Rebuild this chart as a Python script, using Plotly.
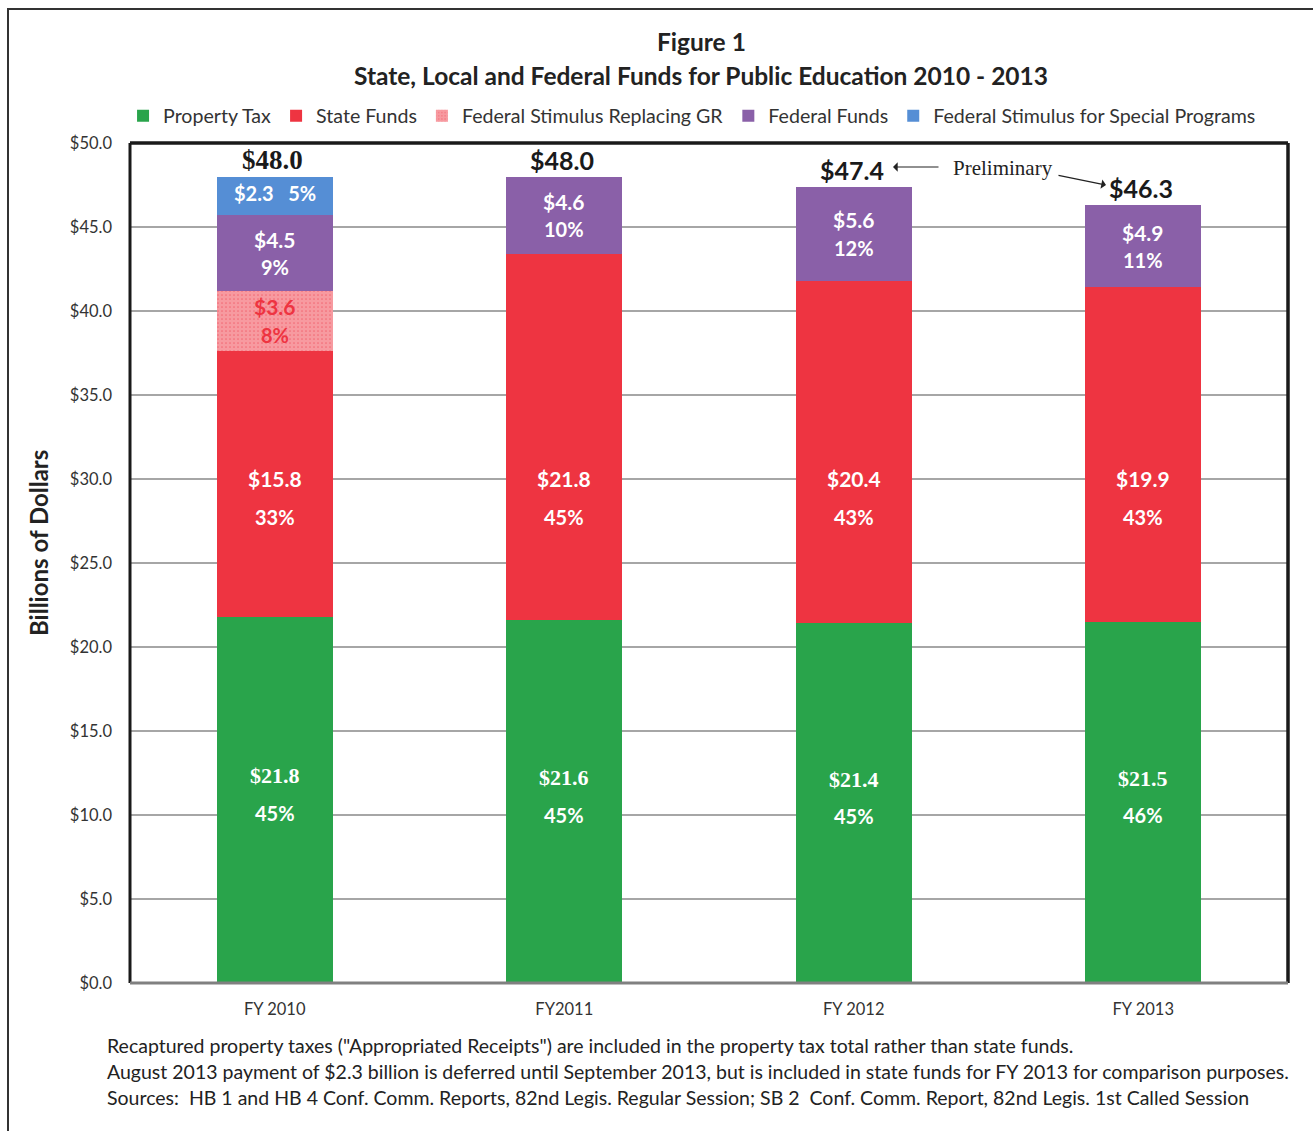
import plotly.graph_objects as go

categories = ["FY 2010", "FY2011", "FY 2012", "FY 2013"]
property_tax = [21.8, 21.6, 21.4, 21.5]
state_funds = [15.8, 21.8, 20.4, 19.9]
stim_gr = [3.6, 0, 0, 0]
federal_funds = [4.5, 4.6, 5.6, 4.9]
stim_special = [2.3, 0, 0, 0]
totals = [48.0, 48.0, 47.4, 46.3]

pt_pct = [45, 45, 45, 46]
sf_pct = [33, 45, 43, 43]
gr_pct = [8, None, None, None]
ff_pct = [9, 10, 12, 11]
sp_pct = [5, None, None, None]

y_ticks = [0, 5, 10, 15, 20, 25, 30, 35, 40, 45, 50]
y_ticktext = [f"${v:.1f}" for v in y_ticks]

footnotes = [
    'Recaptured property taxes ("Appropriated Receipts") are included in the property tax total rather than state funds.',
    'August 2013 payment of $2.3 billion is deferred until September 2013, but is included in state funds for FY 2013 for comparison purposes.',
    'Sources:  HB 1 and HB 4 Conf. Comm. Reports, 82nd Legis. Regular Session; SB 2  Conf. Comm. Report, 82nd Legis. 1st Called Session',
]

GREEN = "#29A44B"
RED = "#EE3441"
PURPLE = "#8A60A8"
BLUE = "#558ED5"
FONT = "Lato"
SERIF = "Liberation Serif"
# in the original, the State Funds labels sit at a common level in the bars
STATE_LABEL_LEVEL = 28.9

fig = go.Figure()
fig.add_trace(go.Bar(name="Property Tax", x=categories, y=property_tax, marker_color=GREEN))
fig.add_trace(go.Bar(name="State Funds", x=categories, y=state_funds, marker_color=RED))
fig.add_trace(go.Bar(name="Federal Stimulus Replacing GR", x=categories, y=stim_gr,
                     marker=dict(color=RED,
                                 pattern=dict(shape=".", fgcolor="white", bgcolor=RED,
                                              size=4, solidity=0.85))))
fig.add_trace(go.Bar(name="Federal Funds", x=categories, y=federal_funds, marker_color=PURPLE))
fig.add_trace(go.Bar(name="Federal Stimulus for Special Programs", x=categories, y=stim_special,
                     marker_color=BLUE))
fig.update_traces(marker_line_width=0, hoverinfo="x+y+name")

annotations = []


def add_label(x, y, text, fam, size, col, yshift=0):
    annotations.append(dict(x=x, y=y, xref="x", yref="y", xanchor="center", yanchor="middle",
                            yshift=yshift, text=text, showarrow=False,
                            font=dict(family=fam, size=size, color=col)))


base = [0.0] * len(categories)
# property tax
for i, (v, p) in enumerate(zip(property_tax, pt_pct)):
    mid = base[i] + v / 2
    add_label(categories[i], mid, f"<b>${v:.1f}</b>", SERIF, 22, "white", yshift=24)
    add_label(categories[i], mid, f"<b>{p}%</b>", FONT, 20, "white", yshift=-13)
base = [b + v for b, v in zip(base, property_tax)]
# state funds
for i, (v, p) in enumerate(zip(state_funds, sf_pct)):
    add_label(categories[i], STATE_LABEL_LEVEL, f"<b>${v:.1f}</b>", FONT, 21, "white", yshift=19)
    add_label(categories[i], STATE_LABEL_LEVEL, f"<b>{p}%</b>", FONT, 20, "white", yshift=-20)
base = [b + v for b, v in zip(base, state_funds)]
# stimulus replacing GR
for i, (v, p) in enumerate(zip(stim_gr, gr_pct)):
    if v and p is not None:
        mid = base[i] + v / 2
        add_label(categories[i], mid, f"<b>${v:.1f}</b>", FONT, 21, RED, yshift=15)
        add_label(categories[i], mid, f"<b>{p}%</b>", FONT, 20, RED, yshift=-14)
base = [b + v for b, v in zip(base, stim_gr)]
# federal funds
for i, (v, p) in enumerate(zip(federal_funds, ff_pct)):
    mid = base[i] + v / 2
    add_label(categories[i], mid, f"<b>${v:.1f}</b>", FONT, 21, "white", yshift=14)
    add_label(categories[i], mid, f"<b>{p}%</b>", FONT, 20, "white", yshift=-14)
base = [b + v for b, v in zip(base, federal_funds)]
# stimulus for special programs
for i, (v, p) in enumerate(zip(stim_special, sp_pct)):
    if v and p is not None:
        add_label(categories[i], base[i] + v / 2, f"<b>${v:.1f}   {p}%</b>", FONT, 20, "white",
                  yshift=3)

# totals
total_fonts = [SERIF, FONT, FONT, FONT]
total_sizes = [27, 25, 25, 25]
for i, t in enumerate(totals):
    annotations.append(dict(x=categories[i], y=t, xref="x", yref="y", xanchor="center",
                            yanchor="bottom", yshift=0, xshift=-2,
                            text=f"<b>${t:.1f}</b>", showarrow=False,
                            font=dict(family=total_fonts[i], size=total_sizes[i],
                                      color="#1a1a1a")))


def px_x(p):
    return (p - 130) / 1158


def px_y(p):
    return (983 - p) / 840


# Preliminary note with arrows
annotations.append(dict(x=px_x(1003), y=px_y(168), xref="paper", yref="paper",
                        xanchor="center", yanchor="middle",
                        text="Preliminary", showarrow=False,
                        font=dict(family=SERIF, size=21, color="#222")))
annotations.append(dict(x=px_x(893), y=px_y(167), xref="paper", yref="paper",
                        ax=47, ay=0, text="", showarrow=True, arrowhead=1, arrowsize=1.3,
                        arrowwidth=1.2, arrowcolor="#222"))
annotations.append(dict(x=px_x(1106), y=px_y(185), xref="paper", yref="paper",
                        ax=-49, ay=-10, text="", showarrow=True, arrowhead=1, arrowsize=1.3,
                        arrowwidth=1.2, arrowcolor="#222"))

# titles
annotations.append(dict(x=px_x(701), y=px_y(42), xref="paper", yref="paper",
                        xanchor="center", yanchor="middle",
                        text="<b>Figure 1</b>", showarrow=False,
                        font=dict(family=FONT, size=24.5, color="#222")))
annotations.append(dict(x=px_x(701), y=px_y(75), xref="paper", yref="paper",
                        xanchor="center", yanchor="middle",
                        text="<b>State, Local and Federal Funds for Public Education 2010 - 2013</b>",
                        showarrow=False, font=dict(family=FONT, size=24.5, color="#222")))

# y-axis title
annotations.append(dict(x=px_x(38), y=px_y(543), xref="paper", yref="paper",
                        xanchor="center", yanchor="middle",
                        text="<b>Billions of Dollars</b>", textangle=-90, showarrow=False,
                        font=dict(family=FONT, size=24, color="#222")))

# footnotes
for k, line in enumerate(footnotes):
    annotations.append(dict(x=px_x(105), y=px_y(1045 + 26 * k),
                            xref="paper", yref="paper", xanchor="left", yanchor="middle",
                            text=line, showarrow=False,
                            font=dict(family=FONT, size=19.5, color="#222")))

shapes = [
    # outer border
    dict(type="rect", xref="paper", yref="paper", x0=px_x(8), x1=1.05,
         y0=-0.3, y1=px_y(9), line=dict(color="#333", width=2), layer="below"),
    # plot frame
    dict(type="line", xref="paper", yref="paper", x0=0, x1=1, y0=1, y1=1,
         line=dict(color="#1a1a1a", width=3.5)),
    dict(type="line", xref="paper", yref="paper", x0=0, x1=0, y0=0, y1=1,
         line=dict(color="#1a1a1a", width=3)),
    dict(type="line", xref="paper", yref="paper", x0=1, x1=1, y0=0, y1=1,
         line=dict(color="#1a1a1a", width=3.5)),
    dict(type="line", xref="paper", yref="paper", x0=0, x1=1, y0=0, y1=0,
         line=dict(color="#808080", width=3)),
]

fig.update_layout(
    width=1313, height=1131,
    margin=dict(l=130, r=25, t=143, b=148),
    paper_bgcolor="white", plot_bgcolor="white",
    barmode="stack", bargap=0.6,
    font=dict(family=FONT, size=16, color="#333"),
    showlegend=True,
    legend=dict(orientation="h", x=-0.006, y=px_y(116), xanchor="left", yanchor="middle",
                traceorder="normal", font=dict(family=FONT, size=19.6, color="#333"),
                itemwidth=30, bgcolor="rgba(0,0,0,0)"),
    annotations=annotations,
    shapes=shapes,
    xaxis=dict(showgrid=False, ticks="", tickfont=dict(family=FONT, size=16.5, color="#333"),
               showline=False, ticklabelstandoff=14),
    yaxis=dict(range=[0, 50], tickvals=y_ticks, ticktext=y_ticktext,
               showgrid=True, gridcolor="#A6A6A6", gridwidth=1.5, zeroline=False,
               ticks="", tickfont=dict(family=FONT, size=16.5, color="#333"), showline=False,
               ticklabelstandoff=17),
)

fig.write_html("out.html")
